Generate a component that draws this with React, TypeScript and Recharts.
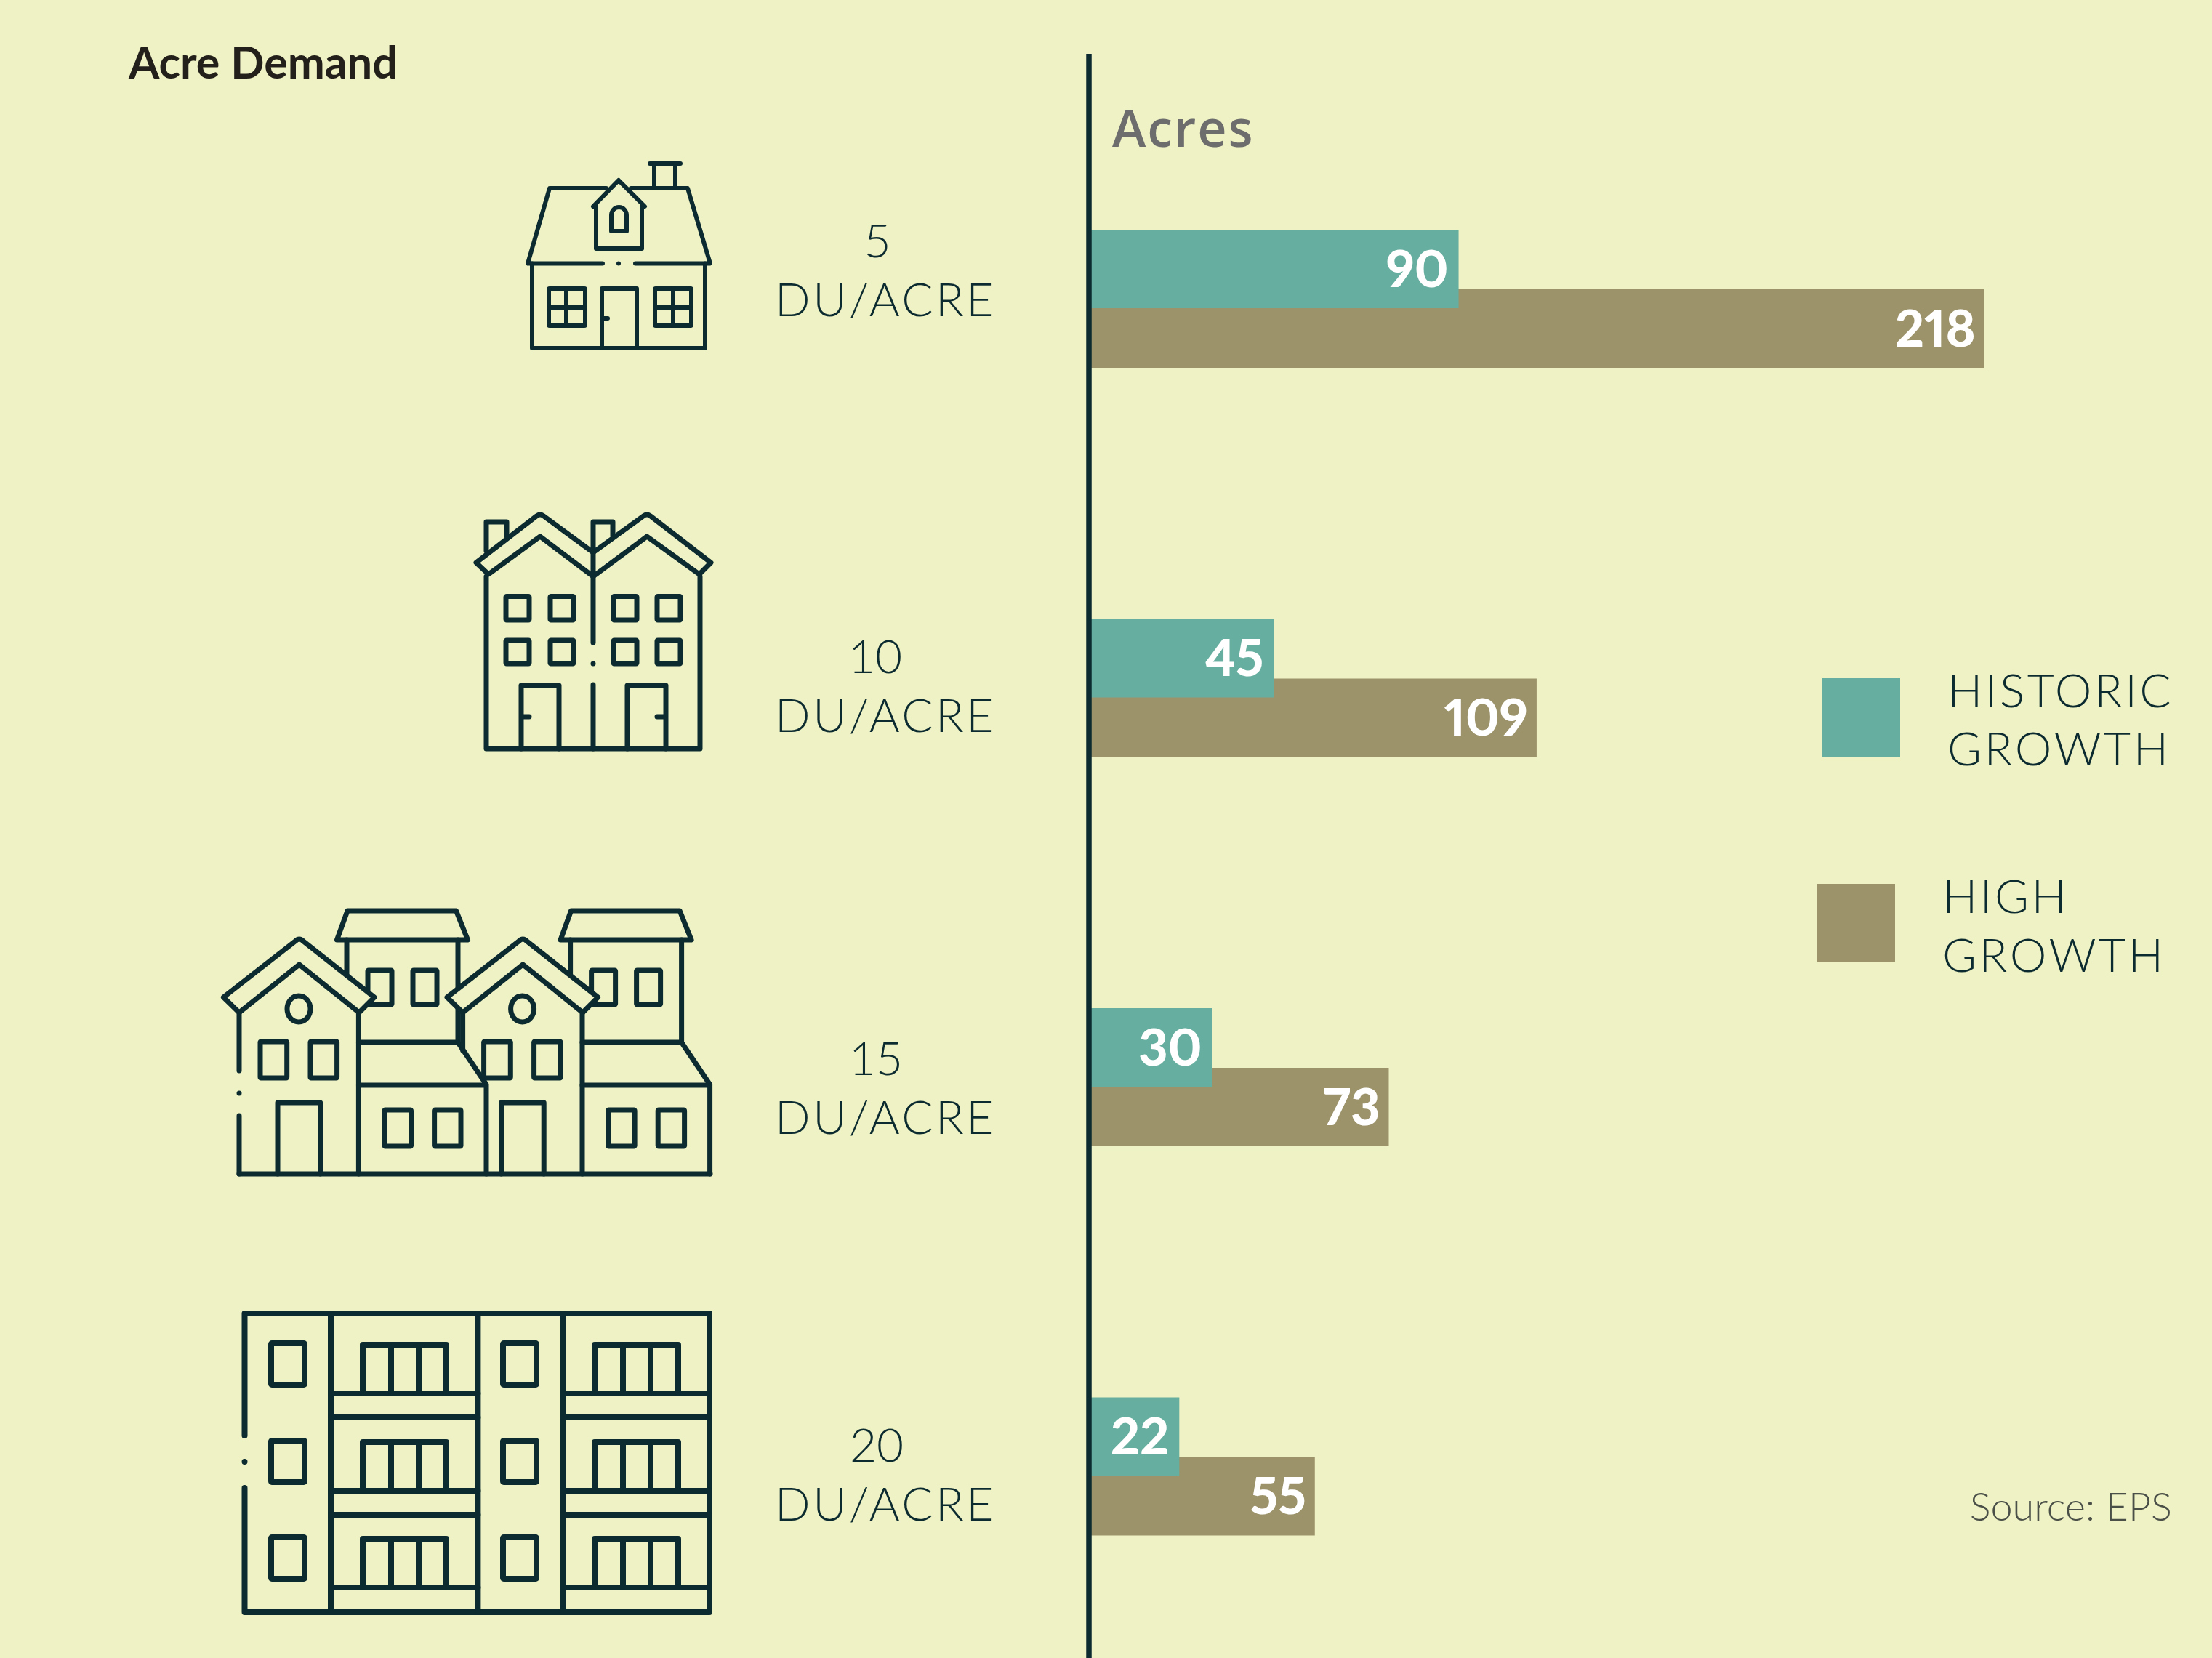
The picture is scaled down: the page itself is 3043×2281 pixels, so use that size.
import React from "react";
import { BarChart, Bar, XAxis, YAxis, Legend, LabelList, ReferenceLine } from "recharts";

const categories = ["5", "10", "15", "20"];
const unitLabel = "DU/ACRE";
const historicValues = [90, 45, 30, 22];
const highValues = [218, 109, 73, 55];
const xDomain = [0, 269];

const historicLegend = ["HISTORIC", "GROWTH"];
const highLegend = ["HIGH", "GROWTH"];
const titleText = "Acre Demand";
const axisTitle = "Acres";
const sourceText = "Source: EPS";

const rows = categories.map((density, i) => ({
  density,
  historic: historicValues[i],
  high: highValues[i],
}));

const BG = "#EFF2C4";
const INK = "#0C2B30";
const TEAL = "#66AE9F";
const BROWN = "#9C936B";

const FIRST_LINE_X = [1207, 1204, 1205, 1206];
const SECOND_LINE_Y = [435, 1007, 1560, 2092];

const Rect = ({ x0, y0, x1, y1 }: any) => <rect x={x0} y={y0} width={x1 - x0} height={y1 - y0} rx={1} />;

function IconSingle() {
  return (
    <g fill="none" stroke={INK} strokeWidth={6} strokeLinecap="round" strokeLinejoin="round">
      <path d="M894 225H936M900 225V259M929 225V259" />
      <path d="M834 259H756L726 362.5H829M868 259H946L977 362.5H874" />
      <path d="M851 362.5h.01" />
      <path d="M732 362.5V479H970V362.5" />
      <Rect x0={755} y0={397} x1={805} y1={448} />
      <path d="M779 397V448M755 423H805" />
      <Rect x0={901} y0={397} x1={951} y1={448} />
      <path d="M926 397V448M901 423H951" />
      <path d="M828 479V397H876V479M828 438H836" />
      <path d="M816 284L851 248L887 284M820 284V342H883V284" />
      <path d="M841 318V296A10.5 11 0 0 1 862 296V318Z" />
    </g>
  );
}

function IconDuplex() {
  return (
    <g fill="none" stroke={INK} strokeWidth={7} strokeLinecap="round" strokeLinejoin="round">
      <path d="M669 758V718H697V737M816 758V718H843V737" />
      <path d="M655 774L738 710Q743 706 748 710L816 760L885 710Q890 706 895 710L978 774L962 790L890 738L816 793L743 738L672 790Z" />
      <path d="M669 793V1030H963V793" />
      <path d="M816 760V884M816 913h.01M816 942V1030" />
      {[696, 757, 844, 904].map((x) => (
        <React.Fragment key={x}>
          <Rect x0={x} y0={820.5} x1={x + 32} y1={853} />
          <Rect x0={x} y0={881} x1={x + 32} y1={913} />
        </React.Fragment>
      ))}
      <path d="M717 1030V943H769V1030M717 986H728" />
      <path d="M863 1030V943H916V1030M916 986H904" />
    </g>
  );
}

function TownUnit({ dx, fullLeftWall }: { dx: number; fullLeftWall: boolean }) {
  return (
    <g transform={`translate(${dx} 0)`}>
      <path d="M463.5 1293L478 1253H627.5L643.5 1293Z" />
      <path d="M477 1293V1342M630 1293V1434" />
      <Rect x0={506} y0={1335} x1={539} y1={1382} />
      <Rect x0={568} y0={1335} x1={601} y1={1382} />
      <path d="M493.4 1434H630L669 1492V1615M493.4 1493H669" />
      <Rect x0={529} y0={1527} x1={565.5} y1={1577} />
      <Rect x0={597.6} y0={1527} x1={634} y1={1577} />
      <path
        fill={BG}
        d="M307.4 1372L406 1295Q411.7 1289 417.4 1295L515 1372L494 1393L411.7 1327L329 1393Z"
      />
      <path d={fullLeftWall ? "M329 1393V1473M329 1504h.01M329 1535V1615" : "M329 1393V1445"} />
      <path d="M493.4 1393V1615" />
      <ellipse cx={411} cy={1388} rx={16} ry={18} />
      <Rect x0={358} y0={1433} x1={394.7} y1={1483} />
      <Rect x0={427} y0={1433} x1={463.6} y1={1483} />
      <path d="M382 1615V1517H440.6V1615" />
    </g>
  );
}

function IconTown() {
  return (
    <g fill="none" stroke={INK} strokeWidth={7} strokeLinecap="round" strokeLinejoin="round">
      <TownUnit dx={0} fullLeftWall />
      <TownUnit dx={307.6} fullLeftWall={false} />
      <path d="M329 1615H977" />
    </g>
  );
}

function IconApartment() {
  const floorLines = [1917, 1950, 2051, 2084, 2184];
  return (
    <g fill="none" stroke={INK} strokeWidth={8} strokeLinecap="round" strokeLinejoin="round">
      <path d="M336.5 1975V1807H976V2218H336.5V2047M336.5 2011h.01" />
      <path d="M455 1807V2218M657.4 1807V2218M774 1807V2218" />
      {floorLines.map((y) => (
        <path key={y} d={`M455 ${y}H657.4M774 ${y}H976`} />
      ))}
      {[0, 134, 267].map((dy) => (
        <g key={dy} transform={`translate(0 ${dy})`}>
          <Rect x0={373} y0={1848} x1={419} y1={1905} />
          <Rect x0={692} y0={1848} x1={738} y1={1905} />
          <path d="M499 1917V1850H614V1917M538 1850V1917M576 1850V1917" />
          <path d="M818 1917V1850H933V1917M857 1850V1917M895 1850V1917" />
        </g>
      ))}
    </g>
  );
}

const ICONS = [IconSingle, IconDuplex, IconTown, IconApartment];

function CategoryTick({ index, payload }: any) {
  const Icon = ICONS[index];
  const textStyle = { fontFamily: "Lato", fontWeight: 300, fontSize: 64, fill: INK };
  return (
    <g>
      <Icon />
      <text x={FIRST_LINE_X[index]} y={SECOND_LINE_Y[index] - 81} textAnchor="middle" style={textStyle}>
        {payload.value}
      </text>
      <text x={1218} y={SECOND_LINE_Y[index]} textAnchor="middle" letterSpacing={3.5} style={textStyle}>
        {unitLabel}
      </text>
    </g>
  );
}

function LegendKeys() {
  const textStyle = { fontFamily: "Lato", fontWeight: 300, fontSize: 64, fill: INK };
  return (
    <svg width={3043} height={2281} style={{ position: "absolute", left: 0, top: 0, pointerEvents: "none" }}>
      <rect x={2506} y={933} width={108} height={108} fill={TEAL} />
      <text x={2679} y={973} letterSpacing={3.5} style={textStyle}>{historicLegend[0]}</text>
      <text x={2679} y={1053} letterSpacing={3.5} style={textStyle}>{historicLegend[1]}</text>
      <rect x={2499} y={1216} width={108} height={108} fill={BROWN} />
      <text x={2672} y={1256} letterSpacing={3.5} style={textStyle}>{highLegend[0]}</text>
      <text x={2672} y={1337} letterSpacing={3.5} style={textStyle}>{highLegend[1]}</text>
    </svg>
  );
}

const barLabelStyle = {
  fontFamily: "Lato",
  fontWeight: 900,
  fontSize: 70,
  fill: "#FFFFFF",
  fontFeatureSettings: '"pnum"',
};

export default function App() {
  return (
    <div
      style={{
        position: "absolute",
        left: 0,
        top: 0,
        width: 3043,
        height: 2281,
        overflow: "hidden",
        background: BG,
      }}
    >
      <BarChart
        width={3043}
        height={2290}
        data={rows}
        layout="vertical"
        margin={{ top: 74, right: 25, bottom: 0, left: 0 }}
        barSize={108}
        barGap={-190}
      >
        <XAxis type="number" domain={xDomain} hide />
        <YAxis
          type="category"
          dataKey="density"
          width={1498}
          interval={0}
          padding={{ top: 69, bottom: 5 }}
          axisLine={{ stroke: INK, strokeWidth: 7 }}
          tickLine={false}
          tick={CategoryTick}
        />
        <Legend content={LegendKeys} wrapperStyle={{ left: 0, top: 0, width: 0, height: 0 }} />
        <Bar dataKey="high" name="High Growth" fill={BROWN} isAnimationActive={false}>
          <LabelList dataKey="high" position="insideRight" offset={12} style={barLabelStyle} />
        </Bar>
        <Bar dataKey="historic" name="Historic Growth" fill={TEAL} isAnimationActive={false}>
          <LabelList dataKey="historic" position="insideRight" offset={14} style={barLabelStyle} />
        </Bar>
        <ReferenceLine x={0} stroke={INK} strokeWidth={7} />
        <text x={177} y={108} style={{ fontFamily: "Lato", fontWeight: 700, fontSize: 61, fill: "#231F1A" }}>
          {titleText}
        </text>
        <text x={1530} y={202} letterSpacing={2} style={{ fontFamily: "Open Sans", fontWeight: 600, fontSize: 70, fill: "#6D6D6D" }}>
          {axisTitle}
        </text>
        <text x={2988} y={2092} textAnchor="end" style={{ fontFamily: "Lato", fontWeight: 300, fontSize: 54, fill: "#4A4F48" }}>
          {sourceText}
        </text>
      </BarChart>
    </div>
  );
}
